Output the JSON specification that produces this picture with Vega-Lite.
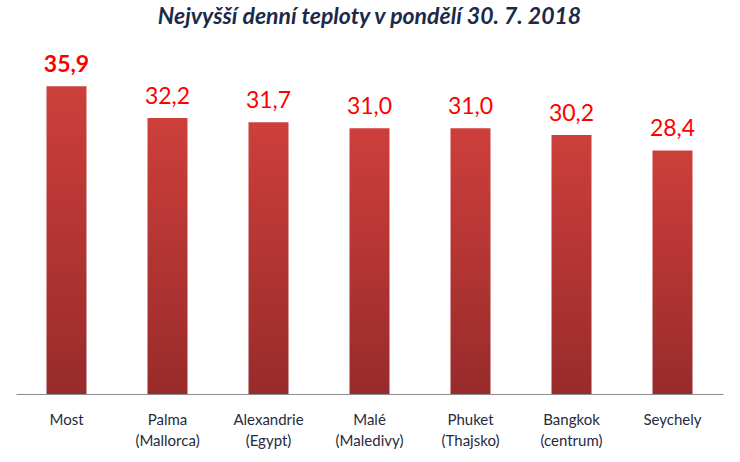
{
  "$schema": "https://vega.github.io/schema/vega-lite/v6.json",
  "width": 707,
  "height": 343,
  "padding": {"left": 16, "top": 51, "right": 17, "bottom": 68},
  "autosize": {"type": "none"},
  "background": "white",
  "title": {
    "text": "Nejvyšší denní teploty v pondělí 30. 7. 2018",
    "font": "Lato",
    "fontSize": 23,
    "fontWeight": "bold",
    "fontStyle": "italic",
    "color": "#1b2a4a",
    "anchor": "middle",
    "offset": 22
  },
  "data": {
    "values": [
      {"city": "Most", "t": 35.9, "label": "35,9", "bold": 1},
      {"city": "Palma|(Mallorca)", "t": 32.2, "label": "32,2", "bold": 0},
      {"city": "Alexandrie|(Egypt)", "t": 31.7, "label": "31,7", "bold": 0},
      {"city": "Malé|(Maledivy)", "t": 31.0, "label": "31,0", "bold": 0},
      {"city": "Phuket|(Thajsko)", "t": 31.0, "label": "31,0", "bold": 0},
      {"city": "Bangkok|(centrum)", "t": 30.2, "label": "30,2", "bold": 0},
      {"city": "Seychely", "t": 28.4, "label": "28,4", "bold": 0}
    ]
  },
  "encoding": {
    "x": {
      "field": "city",
      "type": "nominal",
      "sort": null,
      "scale": {"paddingInner": 0, "paddingOuter": 0},
      "axis": {
        "title": null,
        "labelAngle": 0,
        "labelExpr": "split(datum.value, '|')",
        "labelFont": "Lato",
        "labelFontSize": 15,
        "labelColor": "#262b3d",
        "labelLineHeight": 21,
        "labelPadding": 18,
        "ticks": false,
        "domainColor": "#8c8c8c",
        "domainWidth": 1,
        "grid": false
      }
    },
    "y": {
      "field": "t",
      "type": "quantitative",
      "scale": {"domain": [0, 40]},
      "axis": null
    }
  },
  "layer": [
    {
      "mark": {
        "type": "bar",
        "width": 40,
        "color": {
          "gradient": "linear",
          "x1": 0, "y1": 0, "x2": 0, "y2": 1,
          "stops": [
            {"offset": 0, "color": "#cd3f3b"},
            {"offset": 1, "color": "#982b2b"}
          ]
        }
      }
    },
    {
      "transform": [{"filter": "datum.bold == 0"}],
      "mark": {
        "type": "text",
        "font": "Lato",
        "fontSize": 23,
        "color": "#ff0000",
        "baseline": "alphabetic",
        "dy": -14
      },
      "encoding": {"text": {"field": "label"}}
    },
    {
      "transform": [{"filter": "datum.bold == 1"}],
      "mark": {
        "type": "text",
        "font": "Lato",
        "fontSize": 23,
        "fontWeight": "bold",
        "color": "#ff0000",
        "baseline": "alphabetic",
        "dy": -14
      },
      "encoding": {"text": {"field": "label"}}
    }
  ],
  "config": {"view": {"stroke": null}}
}
